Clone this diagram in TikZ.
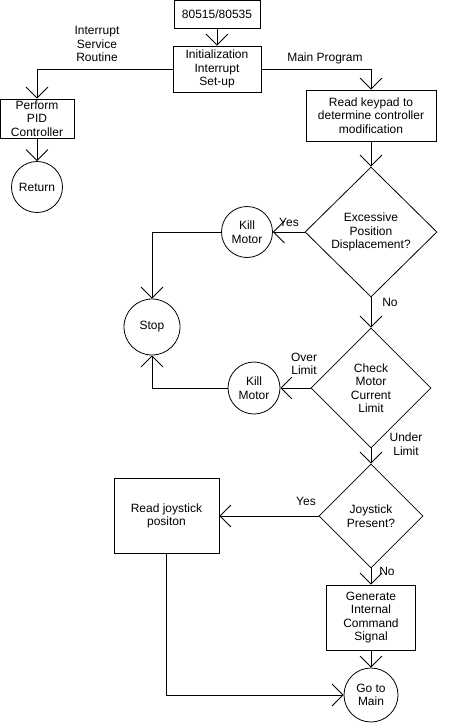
\documentclass[tikz,border=0pt]{standalone}
\usepackage{fontspec}
\setmainfont{Liberation Sans}
\usetikzlibrary{shapes.geometric, arrows.meta}

\tikzset{
  block/.style={draw, align=center, inner sep=0pt},
  terminal/.style={draw, circle, align=center, inner sep=0pt, minimum size=51pt},
  decision/.style={draw, diamond, aspect=1, align=center, inner sep=0pt},
  lbl/.style={align=center, inner sep=0pt}
}

\begin{document}
\begin{tikzpicture}[x=1pt, y=-1pt, line width=0.8pt,
    >={Straight Barb[length=11pt, width=22pt]}, ->,
    font=\fontsize{12}{13.5}\selectfont]
    \useasboundingbox (0,0) rectangle (476,728);

    \node[block, minimum width=86pt, minimum height=28pt] (chip) at (217,14) {80515/80535};
    \node[block, minimum width=88pt, minimum height=46pt, node distance=55pt, below of=chip] (init) {Initialization\\Interrupt\\Set-up};
    \node[block, minimum width=74pt, minimum height=39pt] (pid) at (37,118.5) {Perform\\PID\\Controller};
    \node[terminal, node distance=68.5pt, below of=pid] (ret) {Return};
    \node[block, minimum width=130pt, minimum height=51pt] (keypad) at (371,115.5) {Read keypad to\\determine controller\\modification};
    \node[decision, minimum width=132pt, minimum height=130pt, node distance=116.5pt, below of=keypad] (excess) {Excessive\\Position\\Displacement?};
    \node[terminal, node distance=124pt, left of=excess] (kill1) {Kill\\Motor};
    \node[terminal, minimum size=56pt] (stop) at (152,327) {Stop};
    \node[decision, minimum width=120pt, minimum height=120pt, node distance=156pt, below of=excess] (current) {Check\\Motor\\Current\\Limit};
    \node[terminal, minimum size=52pt, node distance=117pt, left of=current] (kill2) {Kill\\Motor};
    \node[decision, minimum width=104pt, minimum height=104pt, node distance=128pt, below of=current] (joystick) {Joystick\\Present?};
    \node[block, minimum width=105pt, minimum height=75pt, node distance=204.5pt, left of=joystick] (readjoy) {Read joystick\\positon};
    \node[block, minimum width=89pt, minimum height=65pt, node distance=101.5pt, below of=joystick] (gen) {Generate\\Internal\\Command\\Signal};
    \node[terminal, minimum size=54pt, node distance=77.5pt, below of=gen] (gomain) {Go to\\Main};

    % connector labels
    \node[lbl] (isr) at (97,44) {Interrupt\\Service\\Routine};
    \node[lbl] (mainprog) at (325,58) {Main Program};
    \node[lbl] (yes1) at (289,222) {Yes};
    \node[lbl] (no1) at (390,302) {No};
    \node[lbl] (over) at (304,364) {Over\\Limit};
    \node[lbl] (under) at (406,444) {Under\\Limit};
    \node[lbl] (yes2) at (306,501) {Yes};
    \node[lbl] (no2) at (387,571) {No};

    \path
    (chip) edge (init)
    (pid) edge (ret)
    (keypad) edge (excess)
    (excess) edge (kill1)
    (excess) edge (current)
    (current) edge (kill2)
    (current) edge (joystick)
    (joystick) edge (readjoy)
    (joystick) edge (gen)
    (gen) edge (gomain);

    \draw (init) -| (pid);
    \draw (init) -| (keypad);
    \draw (kill1) -| (stop);
    \draw (kill2) -| (stop);
    \draw (readjoy) |- (gomain);
\end{tikzpicture}
\end{document}
